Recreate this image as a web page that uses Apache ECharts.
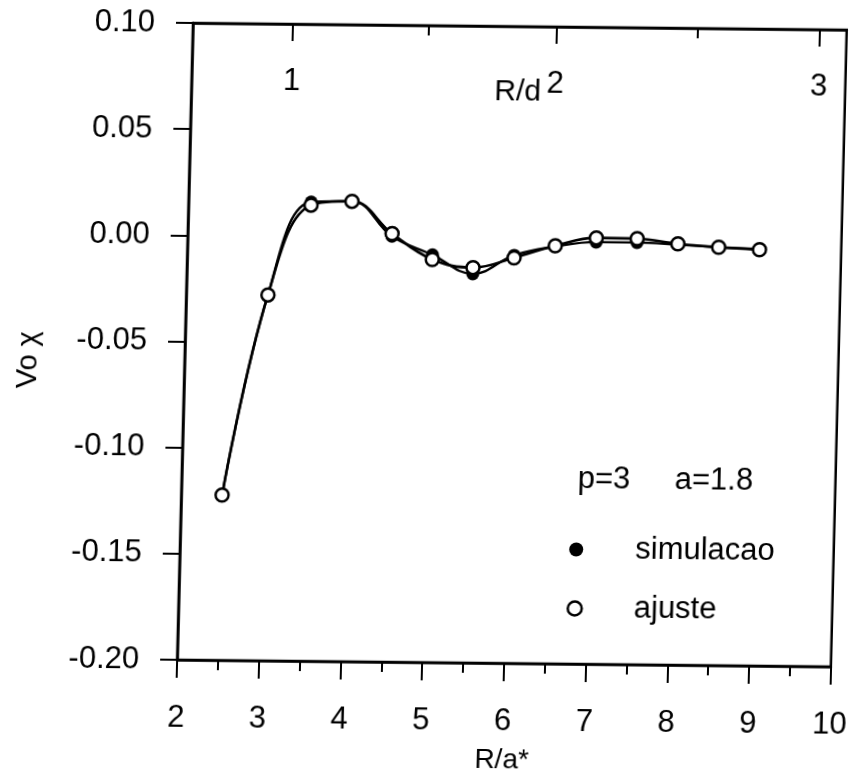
<!DOCTYPE html>
<html><head><meta charset="utf-8">
<script src="https://cdn.jsdelivr.net/npm/echarts@6/dist/echarts.min.js"></script>
<style>
html,body{margin:0;padding:0;background:#fff;}
#chart{width:867px;height:776px;transform-origin:193px 23px;transform:matrix(1,0.0105,-0.0249,1,0,0);}
</style>
</head><body><div id="chart"></div>
<script>
// R/a* positions
const xValues = [2.5, 3.0, 3.5, 4.0, 4.5, 5.0, 5.5, 6.0, 6.5, 7.0, 7.5, 8.0, 8.5, 9.0];
// Vo chi, simulation (filled dots)
const simulacao = [-0.1222, -0.0277, 0.0163, 0.0168, 0.0005, -0.0080, -0.0168, -0.0078, -0.0035, -0.0012, -0.0012, -0.0020, -0.0030, -0.0037];
// Vo chi, fit (open circles)
const ajuste = [-0.1222, -0.0277, 0.0148, 0.0168, 0.0018, -0.0102, -0.0138, -0.0090, -0.0031, 0.0008, 0.0006, -0.0016, -0.0030, -0.0040];
// top axis: R/d
const rdLabels = [1, 2, 3];
const rdMinor = [1.5, 2.5];
const dOverA = 3.225;
const xMin = 2, xMax = 10, yMin = -0.20, yMax = 0.10;
const annotation1 = 'p=3';
const annotation2 = 'a=1.8';

const FONT = "'Liberation Sans', Arial, Helvetica, sans-serif";
const chart = echarts.init(document.getElementById('chart'));
const gridRect = {left: 193, top: 23, width: 666, height: 642};
const lineStyle = {color: '#000', width: 2.5};

chart.setOption({
  animation: false,
  backgroundColor: '#fff',
  textStyle: {fontFamily: FONT, color: '#000'},
  grid: [
    Object.assign({show: true, borderColor: '#000', borderWidth: 2.5, backgroundColor: 'transparent', containLabel: false}, gridRect),
    Object.assign({show: false, containLabel: false}, gridRect)
  ],
  xAxis: [
    {
      type: 'value', gridIndex: 0, position: 'bottom', min: xMin, max: xMax, interval: 1,
      axisLine: {show: true, onZero: false, lineStyle: lineStyle},
      axisTick: {show: true, inside: false, length: 18, lineStyle: {color: '#000', width: 2}},
      minorTick: {show: true, splitNumber: 2, length: 10, lineStyle: {color: '#000', width: 2}},
      axisLabel: {fontSize: 31, color: '#000', fontFamily: FONT, margin: 43},
      splitLine: {show: false},
      name: 'R/a*', nameLocation: 'middle', nameGap: 83,
      nameTextStyle: {fontSize: 28, color: '#000', fontFamily: FONT}
    },
    {
      type: 'value', gridIndex: 0, position: 'top', min: xMin / dOverA, max: xMax / dOverA,
      axisLine: {show: true, onZero: false, lineStyle: lineStyle},
      axisTick: {show: true, inside: true, length: 17, customValues: rdLabels, lineStyle: {color: '#000', width: 2}},
      axisLabel: {show: true, inside: true, customValues: rdLabels, fontSize: 31, color: '#000', fontFamily: FONT, margin: 42},
      splitLine: {show: false}
    },
    {
      type: 'value', gridIndex: 1, position: 'top', min: xMin / dOverA, max: xMax / dOverA,
      axisLine: {show: false, onZero: false},
      axisTick: {show: true, inside: true, length: 10, customValues: rdMinor, lineStyle: {color: '#000', width: 2}},
      axisLabel: {show: false},
      splitLine: {show: false}
    }
  ],
  yAxis: [
    {
      type: 'value', gridIndex: 0, min: yMin, max: yMax, interval: 0.05,
      axisLine: {show: true, onZero: false, lineStyle: lineStyle},
      axisTick: {show: true, inside: false, length: 17, lineStyle: {color: '#000', width: 2}},
      axisLabel: {fontSize: 31, color: '#000', fontFamily: FONT, margin: 38,
        formatter: v => v.toFixed(2)},
      splitLine: {show: false},
      name: 'Vo \u03c7', nameLocation: 'middle', nameGap: 142, nameRotate: 90,
      nameTextStyle: {fontSize: 29, color: '#000', fontFamily: FONT, padding: [0, 40, 0, 0]}
    },
    {
      type: 'value', gridIndex: 1, min: yMin, max: yMax, show: false
    }
  ],
  legend: {
    orient: 'vertical', left: 576, top: 525, itemGap: 28,
    itemWidth: 14, itemHeight: 14,
    textStyle: {fontSize: 31, color: '#000', fontFamily: FONT, lineHeight: 30, padding: [0, 0, 0, 47]},
    data: [
      {name: 'simulacao', icon: 'circle', itemStyle: {color: '#000', borderWidth: 0}},
      {name: 'ajuste', icon: 'circle', itemStyle: {color: '#fff', borderColor: '#000', borderWidth: 2.5}}
    ]
  },
  graphic: [
    {type: 'text', left: 496, top: 74, style: {text: 'R/d', font: '30px ' + FONT, fill: '#000'}},
    {type: 'text', left: 589, top: 460, style: {text: annotation1, font: '31px ' + FONT, fill: '#000'}},
    {type: 'text', left: 686, top: 460, style: {text: annotation2, font: '31px ' + FONT, fill: '#000'}}
  ],
  series: [
    {
      name: 'simulacao', type: 'line', xAxisIndex: 0, yAxisIndex: 0,
      data: xValues.map((x, i) => [x, simulacao[i]]),
      smooth: 0.4,
      symbol: 'circle', symbolSize: 13,
      lineStyle: {color: '#000', width: 2.4},
      itemStyle: {color: '#000'},
      z: 2
    },
    {
      name: 'ajuste', type: 'line', xAxisIndex: 0, yAxisIndex: 0,
      data: xValues.map((x, i) => [x, ajuste[i]]),
      smooth: 0.4,
      symbol: 'circle', symbolSize: 13,
      lineStyle: {color: '#000', width: 2.6},
      itemStyle: {color: '#fff', borderColor: '#000', borderWidth: 2.5},
      z: 3
    }
  ]
});
</script>
</body></html>
